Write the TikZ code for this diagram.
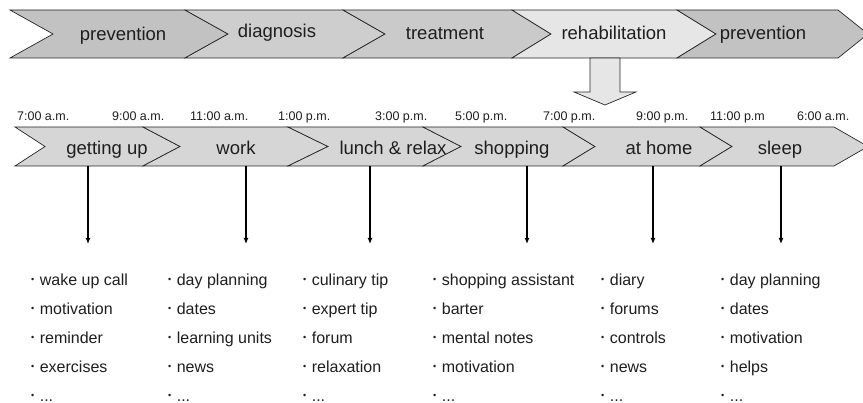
\documentclass[tikz,border=0pt]{standalone}
\usepackage{fontspec}
\setmainfont{Liberation Sans}
\usepackage{tikz}
\usetikzlibrary{arrows.meta}

\definecolor{prevgray}{HTML}{C2C2C2}
\definecolor{diaggray}{HTML}{CECECE}
\definecolor{treatgray}{HTML}{CACACA}
\definecolor{rehabgray}{HTML}{E6E6E6}
\definecolor{daygray}{HTML}{D6D6D6}
\definecolor{ink}{HTML}{1E1E1E}

\tikzset{
  band/.style={draw=black!85, line width=0.7pt},
  phase/.style={font=\fontsize{18.5}{20}\selectfont, text=ink, inner sep=0pt, anchor=base},
  hour/.style={font=\fontsize{12.5}{14}\selectfont, text=ink, inner sep=0pt, anchor=base west},
  todo/.style={font=\fontsize{16}{29}\selectfont, text=ink, inner sep=0pt, align=left, anchor=north west},
  pin/.style={-{Latex[length=6pt,width=5pt]}, line width=1.5pt}
}
% one chevron: ytop, ybot, left x, left notch, right x, right tip, fill
\newcommand\chev[7]{\filldraw[band, fill=#7] (#3,#1) -- (#5,#1) -- (#6,{(#1+#2)/2}) -- (#5,#2) -- (#3,#2) -- (#4,{(#1+#2)/2}) -- cycle;}
\newcommand\itm{\raisebox{3.2pt}{\fontsize{9}{9}\selectfont •}\hspace{5.5pt}}

\begin{document}
\begin{tikzpicture}[x=1pt, y=-1pt]
  \useasboundingbox (0,0) rectangle (863,403);

  % life phases
  \chev{10}{58}{10}{53}{185}{228}{prevgray}
  \chev{10}{58}{185}{228}{343}{385}{diaggray}
  \chev{10}{58}{343}{385}{512}{551}{treatgray}
  \chev{10}{58}{512}{551}{677}{716}{rehabgray}
  \chev{10}{58}{677}{716}{838}{868}{prevgray}

  \node[phase] (prev1) at (123,41) {prevention};
  \node[phase] (diag) at (277,38) {diagnosis};
  \node[phase] (treat) at (445,40) {treatment};
  \node[phase] (rehab) at (614,40) {rehabilitation};
  \node[phase] (prev2) at (763,40) {prevention};

  % block arrow down to the day
  \filldraw[band, fill=rehabgray] (590,58) -- (590,92) -- (574,92) -- (605,105)
    -- (636,92) -- (620,92) -- (620,58) -- cycle;

  % daily routine
  \chev{127}{166}{15}{45}{143}{180}{daygray}
  \chev{127}{166}{143}{180}{288}{328}{daygray}
  \chev{127}{166}{288}{328}{423}{461}{daygray}
  \chev{127}{166}{423}{461}{563}{595}{daygray}
  \chev{127}{166}{563}{595}{700}{732}{daygray}
  \chev{127}{166}{700}{732}{834}{868}{daygray}

  \node[hour] (h1) at (17,121) {7:00 a.m.};
  \node[hour] (h2) at (112,121) {9:00 a.m.};
  \node[hour] (h3) at (190,121) {11:00 a.m.};
  \node[hour] (h4) at (278,121) {1:00 p.m.};
  \node[hour] (h5) at (375,121) {3:00 p.m.};
  \node[hour] (h6) at (455,121) {5:00 p.m.};
  \node[hour] (h7) at (543,121) {7:00 p.m.};
  \node[hour] (h8) at (636,121) {9:00 p.m.};
  \node[hour] (h9) at (710,121) {11:00 p.m};
  \node[hour] (h10) at (797,121) {6:00 a.m.};

  \node[phase] (getup) at (107,155) {getting up};
  \node[phase] (work) at (236,155) {work};
  \node[phase] (lunch) at (393,155) {lunch \& relax};
  \node[phase] (shop) at (512,155) {shopping};
  \node[phase] (home) at (659,155) {at home};
  \node[phase] (sleep) at (780,155) {sleep};

  % services per activity
  \node[todo] (l1) at (31,274) {\itm wake up call\\ \itm motivation\\ \itm reminder\\ \itm exercises\\ \itm ...};
  \node[todo] (l2) at (168,274) {\itm day planning\\ \itm dates\\ \itm learning units\\ \itm news\\ \itm ...};
  \node[todo] (l3) at (303,274) {\itm culinary tip\\ \itm expert tip\\ \itm forum\\ \itm relaxation\\ \itm ...};
  \node[todo] (l4) at (433,274) {\itm shopping assistant\\ \itm barter\\ \itm mental notes\\ \itm motivation\\ \itm ...};
  \node[todo] (l5) at (601,274) {\itm diary\\ \itm forums\\ \itm controls\\ \itm news\\ \itm ...};
  \node[todo] (l6) at (721,274) {\itm day planning\\ \itm dates\\ \itm motivation\\ \itm helps\\ \itm ...};

  \coordinate (a1) at (88,166);  \coordinate (b1) at (88,244);
  \coordinate (a2) at (246,166); \coordinate (b2) at (246,244);
  \coordinate (a3) at (370,166); \coordinate (b3) at (370,244);
  \coordinate (a4) at (527,166); \coordinate (b4) at (527,244);
  \coordinate (a5) at (653,166); \coordinate (b5) at (653,244);
  \coordinate (a6) at (781,166); \coordinate (b6) at (781,244);

  \draw[pin] (a1) -- (b1);
  \draw[pin] (a2) -- (b2);
  \draw[pin] (a3) -- (b3);
  \draw[pin] (a4) -- (b4);
  \draw[pin] (a5) -- (b5);
  \draw[pin] (a6) -- (b6);
\end{tikzpicture}
\end{document}
